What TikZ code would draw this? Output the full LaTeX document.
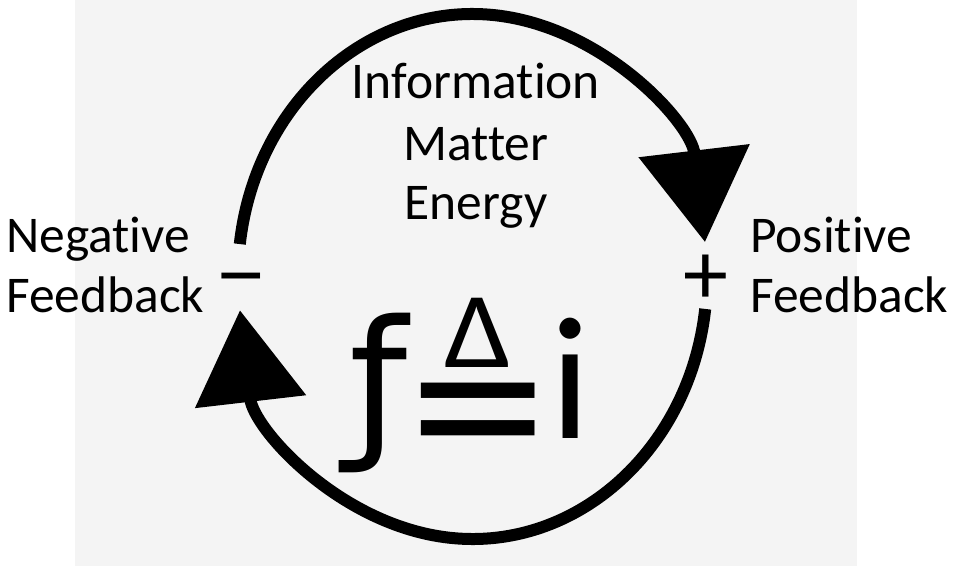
\documentclass[tikz,border=0pt]{standalone}
\usepackage{fontspec}
\setmainfont{Carlito}[Ligatures={NoCommon,NoContextual}]
\newfontfamily\symfont{DejaVu Sans}
\usetikzlibrary{arrows.meta}
\definecolor{panelgrey}{HTML}{F4F4F4}
\tikzset{
    txt/.style = {inner sep=0pt, font=\fontsize{51.5}{60}\selectfont},
    sign/.style = {inner sep=0pt, font=\fontsize{90}{90}\selectfont},
    glyph/.style = {inner sep=0pt, font=\fontsize{175}{175}\selectfont},
    flow/.style = {line width=12pt, -{Triangle[length=92pt, width=109pt]}}
}
\begin{document}
\begin{tikzpicture}[x=1pt, y=1pt]
    \useasboundingbox (0,0) rectangle (953,566);
    \fill[white] (0,0) rectangle (953,566);
    \fill[panelgrey] (75,0) rectangle (857,566);
    % centre of the loop and the ends of its two halves
    \coordinate (loop) at (472.5,289.5);
    \path (loop) ++(172.9:234.5pt and 262.5pt) coordinate (negTop);
    \path (loop) ++(-7.1:234.5pt and 262.5pt) coordinate (posBot);
    \node [txt, anchor=base west] (neg1) at (6,314) {Negative};
    \node [txt, anchor=base west] (neg2) at (6,254) {Feedback};
    \node [txt, anchor=base west] (pos1) at (750,314) {Positive};
    \node [txt, anchor=base west] (pos2) at (750,254) {Feedback};
    \node [txt, anchor=base] (info) at (476,467) {Information};
    \node [txt, anchor=base] (matter) at (476,405) {Matter};
    \node [txt, anchor=base] (energy) at (476,346) {Energy};
    \node [sign, anchor=base] (minus) at (241.5,262) {\scalebox{1.15}[1]{−}};
    \node [sign, anchor=base] (plus) at (706,262) {+};
    \node [glyph, anchor=base, font=\symfont\fontsize{165}{165}\selectfont] (fsym) at (379,128) {ƒ};
    \node [glyph, anchor=base] (defeq) at (478.5,82) {\makebox[0pt]{\scalebox{1.6}[1.35]{=}}\makebox[0pt]{\raisebox{117pt}{\fontsize{108}{108}\selectfont\scalebox{1.1}[1]{Δ}}}};
    \node [glyph, anchor=base] (isym) at (571,128) {i};
    \draw [flow] (negTop) arc[start angle=172.9, end angle=7.55, x radius=234.5pt, y radius=262.5pt];
    \draw [flow] (posBot) arc[start angle=-7.1, end angle=-172.6, x radius=234.5pt, y radius=262.5pt];
\end{tikzpicture}
\end{document}
